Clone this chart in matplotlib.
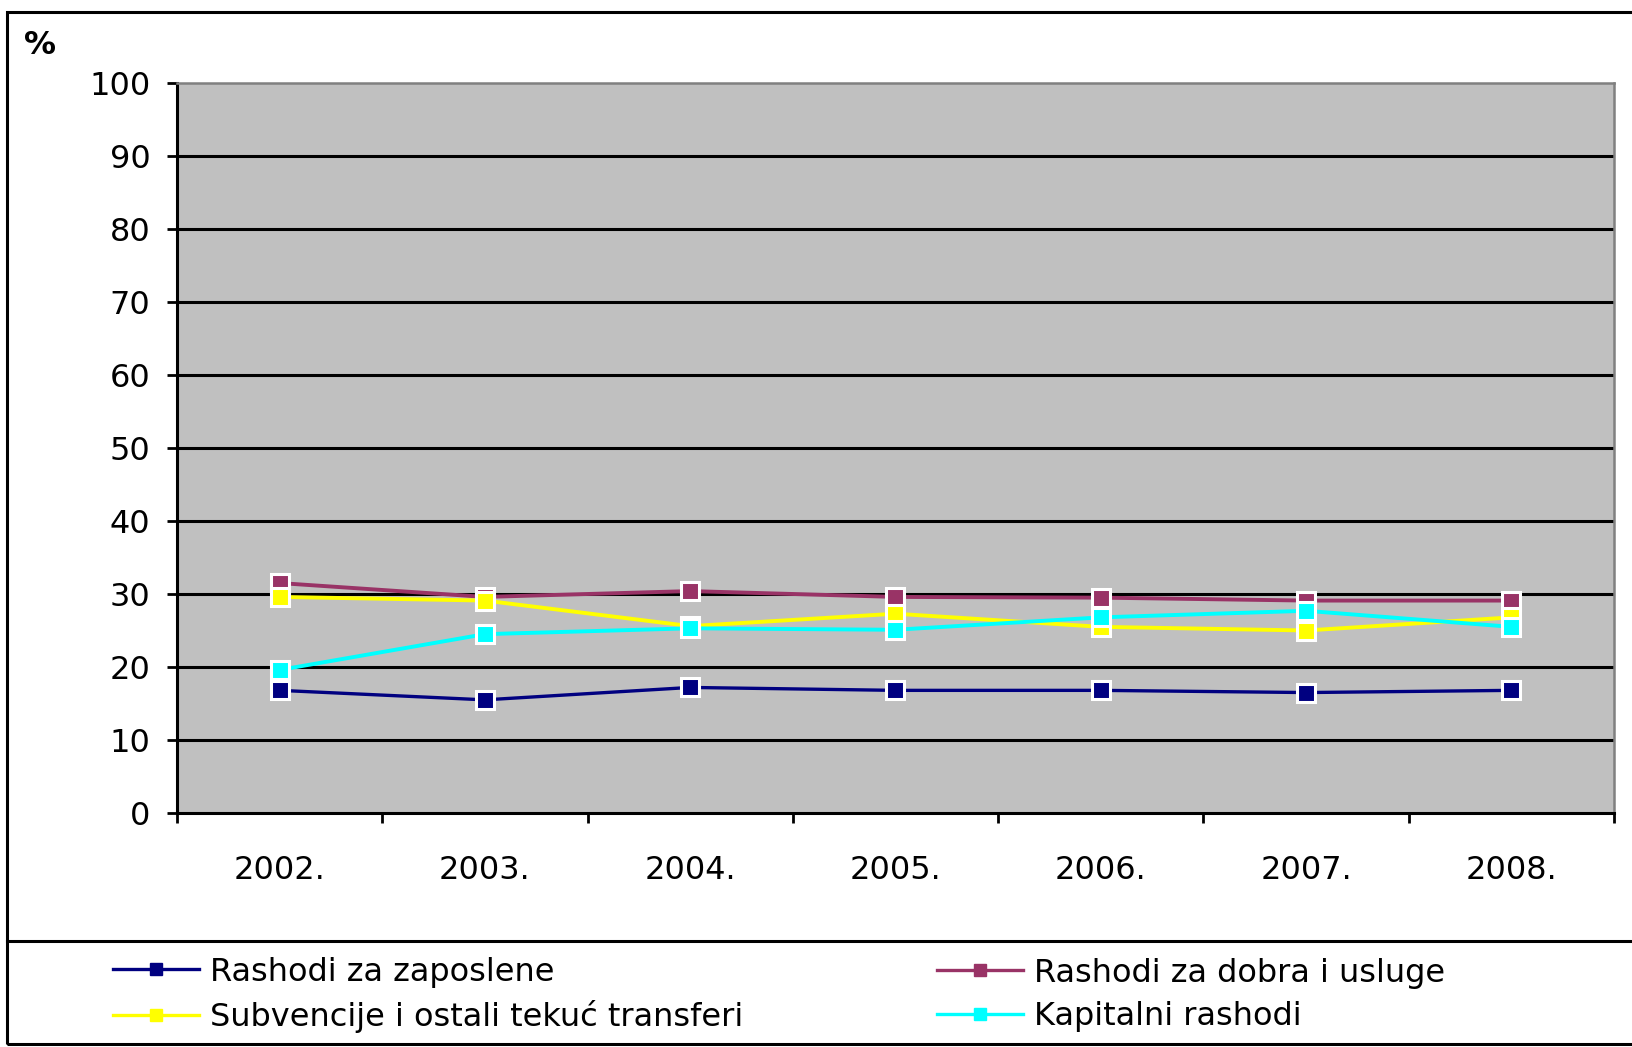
import matplotlib
matplotlib.use("Agg")
import matplotlib.pyplot as plt
from matplotlib.lines import Line2D
from matplotlib.patches import Rectangle

plt.rcParams['font.family'] = ['DejaVu Sans']

years = ["2002.", "2003.", "2004.", "2005.", "2006.", "2007.", "2008."]
zaposlene = [16.8, 15.5, 17.2, 16.8, 16.8, 16.5, 16.8]
dobra_usluge = [31.5, 29.6, 30.4, 29.6, 29.5, 29.1, 29.1]
subvencije = [29.6, 29.1, 25.6, 27.3, 25.5, 25.0, 26.8]
kapitalni = [19.6, 24.5, 25.3, 25.1, 26.8, 27.7, 25.5]

series = [
    ("Rashodi za zaposlene", zaposlene, "#000080", 2.4),
    ("Rashodi za dobra i usluge", dobra_usluge, "#993366", 2.8),
    ("Subvencije i ostali tekuć transferi", subvencije, "#FFFF00", 2.8),
    ("Kapitalni rashodi", kapitalni, "#00FFFF", 2.8),
]
yticks = list(range(0, 101, 10))

W, H = 1633, 1047
fig = plt.figure(figsize=(W / 100, H / 100), dpi=100)
fig.patch.set_facecolor("white")

ax = fig.add_axes([177 / W, 1 - 813 / H, (1614 - 177) / W, (813 - 83) / H])
ax.set_facecolor("#C0C0C0")

x = list(range(len(years)))
for name, vals, col, lw in series:
    ax.plot(x, vals, color=col, lw=lw, marker="s", markersize=13,
            markerfacecolor=col, markeredgecolor="white", markeredgewidth=2.2,
            solid_joinstyle="round", zorder=3)

ax.set_xlim(-0.5, len(years) - 0.5)
ax.set_ylim(0, 100)
ax.set_yticks(yticks)
ax.set_yticklabels([str(t) for t in yticks])
for t in yticks[1:-1]:
    ax.axhline(t, color="black", lw=2.2, zorder=1)

ax.set_xticks([i - 0.5 for i in range(len(years) + 1)])
ax.set_xticklabels([])
ax.set_xticks(x, minor=True)
ax.set_xticklabels(years, minor=True)
ax.tick_params(axis="x", which="major", direction="out", length=7, width=2.0, color="black")
ax.tick_params(axis="x", which="minor", length=0, pad=30, labelsize=23)
ax.tick_params(axis="y", direction="out", length=7, width=2.0, color="black", pad=12, labelsize=23)

for s in ["left", "bottom"]:
    ax.spines[s].set_color("black")
    ax.spines[s].set_linewidth(2.2)
for s in ["top", "right"]:
    ax.spines[s].set_color("#808080")
    ax.spines[s].set_linewidth(1.8)

fig.text(24 / W, 1 - 45 / H, "%", fontsize=23, fontweight="bold", va="center", ha="left")

# outer frame and legend separator
fig.patches.append(Rectangle((7 / W, 1 - 1044 / H), 1.5, (1044 - 12) / H, transform=fig.transFigure,
                             fill=False, edgecolor="black", lw=2.2, zorder=0))
fig.lines.append(Line2D([7 / W, 1.0], [1 - 941 / H, 1 - 941 / H], transform=fig.transFigure,
                        color="black", lw=2.2))

def handle(col):
    return Line2D([0], [0], color=col, lw=2.4, marker="s", markersize=8,
                  markerfacecolor=col, markeredgecolor=col)

col1 = [series[0], series[2]]
col2 = [series[1], series[3]]
for group, xpos in [(col1, 113), (col2, 937)]:
    fig.legend([handle(c) for _, _, c, _ in group], [n for n, _, _, _ in group],
               loc="center left", bbox_to_anchor=(xpos / W, 1 - 995 / H),
               frameon=False, borderpad=0, borderaxespad=0, handlelength=2.7,
               handletextpad=0.35, labelspacing=0.4, fontsize=23)

fig.savefig("out.png", dpi=100)
